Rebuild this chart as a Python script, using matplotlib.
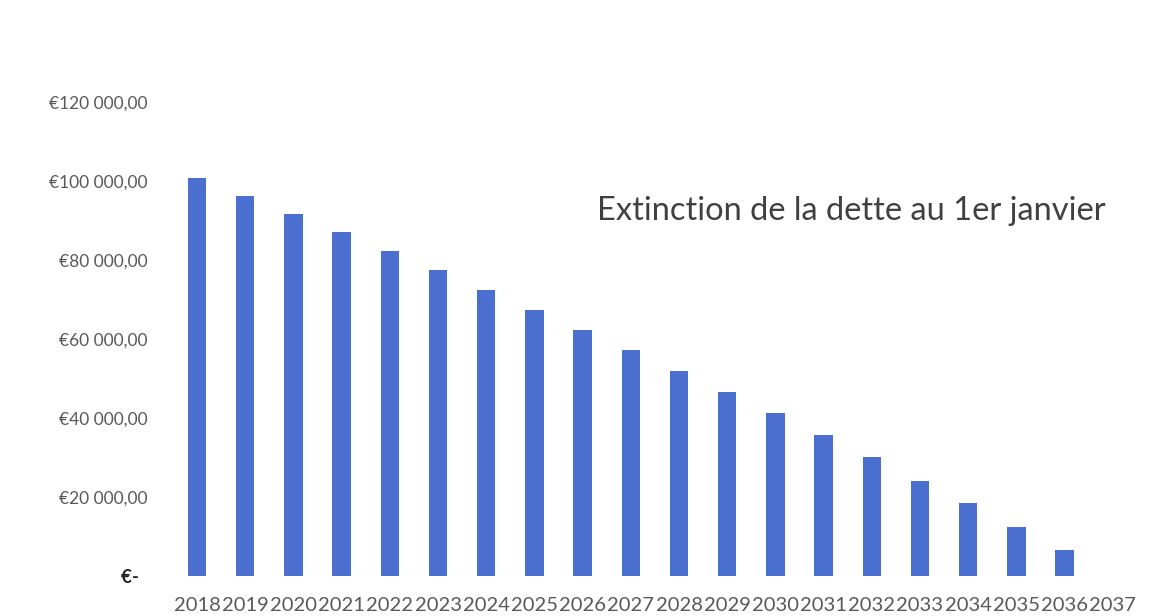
import matplotlib.pyplot as plt
import numpy as np

plt.rcParams['font.family'] = ['Lato', 'DejaVu Sans']

annees = [str(a) for a in range(2018, 2038)]
capital = [100700, 96200, 91600, 87000, 82200, 77400, 72400, 67300, 62300, 57200,
           51900, 46600, 41300, 35700, 30100, 24100, 18400, 12500, 6600, 0]
yticks = [0, 20000, 40000, 60000, 80000, 100000, 120000]
ytick_labels = ["€-  ", "€20 000,00", "€40 000,00", "€60 000,00", "€80 000,00",
                "€100 000,00", "€120 000,00"]

fig = plt.figure(figsize=(11.53, 6.16), dpi=100)
ax = fig.add_axes([0.150, 0.065, 0.836, 0.770])

x = np.arange(len(annees))
ax.bar(x, capital, width=0.38, color="#4A6FCF")

ax.set_xlim(-0.5, len(annees) - 0.5)
ax.set_ylim(0, 120000)
ax.set_xticks(x)
ax.set_xticklabels(annees, fontsize=14.5, color="#595959")
ax.set_yticks(yticks)
ax.set_yticklabels(ytick_labels, fontsize=12.5, color="#595959")
# le zéro est affiché en gras, comme dans Excel
ax.get_yticklabels()[0].set_color("#222222")
ax.get_yticklabels()[0].set_fontweight("bold")
ax.get_yticklabels()[0].set_fontsize(13.5)
ax.tick_params(axis="y", length=0, pad=18)
ax.tick_params(axis="x", length=0, pad=15)
for s in ax.spines.values():
    s.set_visible(False)

ax.text(0.44, 0.77, "Extinction de la dette au 1er janvier", transform=ax.transAxes,
        fontsize=23.5, color="#404040", ha="left", va="center")

fig.savefig("out.png", dpi=100)
